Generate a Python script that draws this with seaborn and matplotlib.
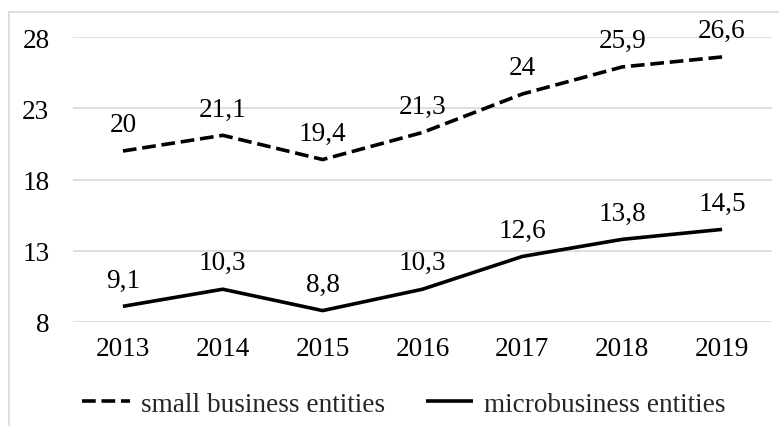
import matplotlib
matplotlib.use("Agg")
import matplotlib.pyplot as plt
import seaborn as sns
import pandas as pd
from matplotlib.patches import Rectangle
from matplotlib.lines import Line2D

years = ["2013", "2014", "2015", "2016", "2017", "2018", "2019"]
small = [20, 21.1, 19.4, 21.3, 24, 25.9, 26.6]
micro = [9.1, 10.3, 8.8, 10.3, 12.6, 13.8, 14.5]
series_names = ["small business entities", "microbusiness entities"]
yticks = [8, 13, 18, 23, 28]

sns.set_theme(style="white")
plt.rcParams["font.family"] = ["Liberation Serif", "DejaVu Serif"]

fig = plt.figure(figsize=(7.79, 4.27), dpi=100)
ax = fig.add_axes([73 / 779, 1 - 323 / 427, (772 - 73) / 779, (323 - 38) / 427])

df = pd.DataFrame({
    "year": list(range(len(years))) * 2,
    "value": small + micro,
    "series": [series_names[0]] * len(years) + [series_names[1]] * len(years),
})

sns.lineplot(data=df, x="year", y="value", hue="series", style="series",
             palette=["black", "black"],
             dashes={series_names[0]: (3.8, 1.6), series_names[1]: ""},
             linewidth=2.6, ax=ax, legend=False, sort=False)

for line in ax.lines:
    line.set_dash_capstyle("butt")
    line.set_solid_capstyle("butt")

fs = 19.6
for vals in (small, micro):
    for i, v in enumerate(vals):
        ax.annotate(f"{v:g}".replace(".", ","), (i, v), xytext=(0, 19),
                    textcoords="offset points", ha="center", va="center",
                    fontsize=fs, color="black")

ax.set_xlim(-0.5, len(years) - 0.5)
ax.set_ylim(8, 28)
ax.set_yticks(yticks)
ax.set_yticklabels([str(t) for t in yticks], fontsize=fs)
ax.set_xticks(range(len(years)))
ax.set_xticklabels(years, fontsize=fs)
ax.tick_params(axis="both", length=0, colors="black")
ax.tick_params(axis="y", pad=17)
ax.tick_params(axis="x", pad=10)
ax.set_xlabel("")
ax.set_ylabel("")
ax.grid(axis="y", color="#d9d9d9", linewidth=1.2)
ax.grid(axis="x", visible=False)
for s in ax.spines.values():
    s.set_visible(False)
ax.set_facecolor("none")

handles = [
    Line2D([], [], color="black", linewidth=2.6, dashes=(3.8, 1.6), dash_capstyle="butt"),
    Line2D([], [], color="black", linewidth=2.6, solid_capstyle="butt"),
]
fig.legend(handles, series_names, loc="center", bbox_to_anchor=(404 / 779, 1 - 405 / 427),
           ncol=2, frameon=False, fontsize=fs, handlelength=1.75, handletextpad=0.4,
           columnspacing=1.5)

fig.patches.append(Rectangle((9 / 779, -0.1), 1.2, 1 - 13 / 427 + 0.1,
                             transform=fig.transFigure, fill=False,
                             edgecolor="#d9d9d9", linewidth=1.2, zorder=0))

fig.savefig("out.png", dpi=100)
